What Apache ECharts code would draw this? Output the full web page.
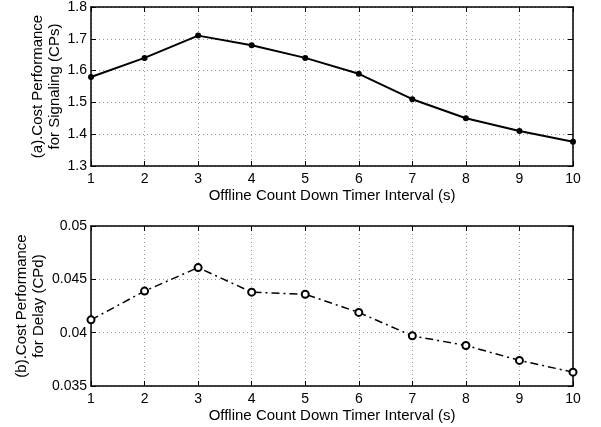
<!DOCTYPE html>
<html>
<head>
<meta charset="utf-8">
<script src="https://cdn.jsdelivr.net/npm/echarts@6/dist/echarts.min.js"></script>
<style>
    html, body { margin: 0; padding: 0; background: #fff; }
    #main { width: 601px; height: 427px; }
</style>
</head>
<body>
<div id="main"></div>
<script>
// 数据
const intervals = ['1', '2', '3', '4', '5', '6', '7', '8', '9', '10'];
const cpSignaling = [1.58, 1.64, 1.71, 1.68, 1.64, 1.59, 1.51, 1.45, 1.41, 1.376];
const cpDelay = [0.0412, 0.0439, 0.0461, 0.0438, 0.0436, 0.0419, 0.0397, 0.0388, 0.0374, 0.0363];
const ticksSignaling = ['1.3', '1.4', '1.5', '1.6', '1.7', '1.8'];
const ticksDelay = ['0.035', '0.04', '0.045', '0.05'];

const xName = 'Offline Count Down Timer Interval (s)';
const font = 'Liberation Sans, Arial, sans-serif';

// 框线 + 虚线网格
const frameLine = { show: true, lineStyle: { color: '#000', width: 1.5 } };
const innerTick = { show: true, inside: true, length: 5, lineStyle: { color: '#000', width: 1 } };
const dotGrid = { show: true, lineStyle: { color: '#9a9a9a', type: [1, 3], width: 1 } };

function xAxes(gridIndex) {
    return [{
        gridIndex,
        type: 'category',
        data: intervals,
        boundaryGap: false,
        position: 'bottom',
        name: xName,
        nameLocation: 'middle',
        nameGap: 22,
        nameTextStyle: { color: '#000', fontSize: 15, fontFamily: font },
        axisLine: frameLine,
        axisTick: { ...innerTick, alignWithLabel: true },
        axisLabel: { color: '#000', fontSize: 14, fontFamily: font, margin: 6 },
        splitLine: dotGrid
    }, {
        gridIndex,
        type: 'category',
        data: intervals,
        boundaryGap: false,
        position: 'top',
        axisLine: frameLine,
        axisTick: innerTick,
        axisLabel: { show: false },
        splitLine: { show: false }
    }];
}

function yAxes(gridIndex, min, max, interval, labels, name, nameGap) {
    const fmt = (v) => {
        const i = Math.round((v - min) / interval);
        return labels[i] !== undefined ? labels[i] : '';
    };
    return [{
        gridIndex,
        type: 'value',
        min, max, interval,
        position: 'left',
        name,
        nameLocation: 'middle',
        nameGap,
        nameMoveOverlap: false,
        nameRotate: 90,
        nameTextStyle: { color: '#000', fontSize: 15, fontFamily: font, lineHeight: 17 },
        axisLine: frameLine,
        axisTick: innerTick,
        axisLabel: { color: '#000', fontSize: 14, fontFamily: font, margin: 4, formatter: fmt },
        splitLine: dotGrid
    }, {
        gridIndex,
        type: 'value',
        min, max, interval,
        position: 'right',
        axisLine: frameLine,
        axisTick: innerTick,
        axisLabel: { show: false },
        splitLine: { show: false }
    }];
}

const chart = echarts.init(document.getElementById('main'));

const option = {
    backgroundColor: '#fff',
    animation: false,
    grid: [
        { left: 91, right: 28, top: 6, height: 160 },
        { left: 91, right: 28, top: 226, height: 160 }
    ],
    xAxis: [...xAxes(0), ...xAxes(1)],
    yAxis: [
        ...yAxes(0, 1.3, 1.8, 0.1, ticksSignaling, '(a).Cost Performance\nfor Signaling (CPs)', 28),
        ...yAxes(1, 0.035, 0.05, 0.005, ticksDelay, '(b).Cost Performance\nfor Delay (CPd)', 44)
    ],
    series: [{
        type: 'line',
        xAxisIndex: 0,
        yAxisIndex: 0,
        data: cpSignaling,
        symbol: 'circle',
        symbolSize: 6,
        lineStyle: { color: '#000', width: 2 },
        itemStyle: { color: '#000' }
    }, {
        type: 'line',
        xAxisIndex: 2,
        yAxisIndex: 2,
        data: cpDelay,
        symbol: 'circle',
        symbolSize: 7,
        lineStyle: { color: '#000', width: 1.5, type: [8, 4, 2, 4] },
        itemStyle: { color: '#fff', borderColor: '#000', borderWidth: 2 }
    }]
};

chart.setOption(option);
</script>
</body>
</html>
